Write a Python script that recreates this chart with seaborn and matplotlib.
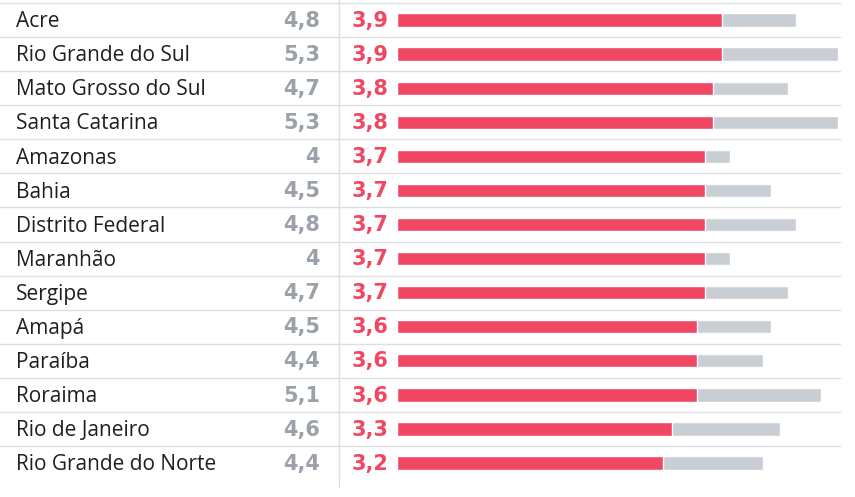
import matplotlib
matplotlib.use("Agg")
import matplotlib.pyplot as plt
import matplotlib.transforms as mtransforms
import seaborn as sns
import pandas as pd

states = ["Acre", "Rio Grande do Sul", "Mato Grosso do Sul", "Santa Catarina",
          "Amazonas", "Bahia", "Distrito Federal", "Maranhão", "Sergipe",
          "Amapá", "Paraíba", "Roraima", "Rio de Janeiro", "Rio Grande do Norte"]
gray_vals = [4.8, 5.3, 4.7, 5.3, 4.0, 4.5, 4.8, 4.0, 4.7, 4.5, 4.4, 5.1, 4.6, 4.4]
red_vals = [3.9, 3.9, 3.8, 3.8, 3.7, 3.7, 3.7, 3.7, 3.7, 3.6, 3.6, 3.6, 3.3, 3.2]


def fmt(v):
    s = f"{v:.1f}".replace(".", ",")
    if s.endswith(",0"):
        s = s[:-2]
    return s


df = pd.DataFrame({"state": states, "gray": gray_vals, "red": red_vals})

sns.set_theme(style="white")
plt.rcParams["font.family"] = ["Open Sans", "DejaVu Sans"]

W, H = 855, 497
fig = plt.figure(figsize=(W / 100, H / 100), dpi=100)
ax = fig.add_axes([0, 0, 1, 1])

RED = "#F04862"
GRAY_BAR = "#C9CED4"
GRAY_TXT = "#9AA1A9"
LINE = "#DCDFE2"

sns.barplot(data=df, x="gray", y="state", color=GRAY_BAR, width=0.39,
            orient="h", ax=ax, saturation=1)
sns.barplot(data=df, x="red", y="state", color=RED, width=0.39,
            orient="h", ax=ax, saturation=1)

# pixel mapping: value 0 at x=397px, 5.3 at x=838px
x0_px, scale = 397.0, (838.0 - 397.0) / 5.3
ax.set_xlim(-x0_px / scale, (W - x0_px) / scale)
row0_px, step = 20.0, 34.08
ax.set_ylim((H - row0_px) / step, -row0_px / step)
ax.axis("off")

blend = mtransforms.blended_transform_factory(fig.transFigure, ax.transData)

n = len(states)
for i in range(n):
    ax.plot([0 / W, 840 / W], [i - 0.5, i - 0.5], transform=blend,
            color=LINE, lw=1.0, zorder=0)

ax.plot([339 / W, 339 / W], [-1, (487 - row0_px) / step], transform=blend,
        color=LINE, lw=1.0, zorder=0)

num_font = ["DejaVu Sans"]
dy = 0.05
for i, (s, g, r) in enumerate(zip(states, gray_vals, red_vals)):
    ax.text(16 / W, i + dy, s, transform=blend, ha="left", va="center",
            fontsize=15, color="#1f1f1f")
    ax.text(320 / W, i + 0.02, fmt(g), transform=blend, ha="right", va="center",
            fontsize=15, fontweight="bold", color=GRAY_TXT, family=num_font)
    ax.text(352 / W, i + 0.02, fmt(r), transform=blend, ha="left", va="center",
            fontsize=15, fontweight="bold", color=RED, family=num_font)

fig.savefig("out.png", dpi=100)
